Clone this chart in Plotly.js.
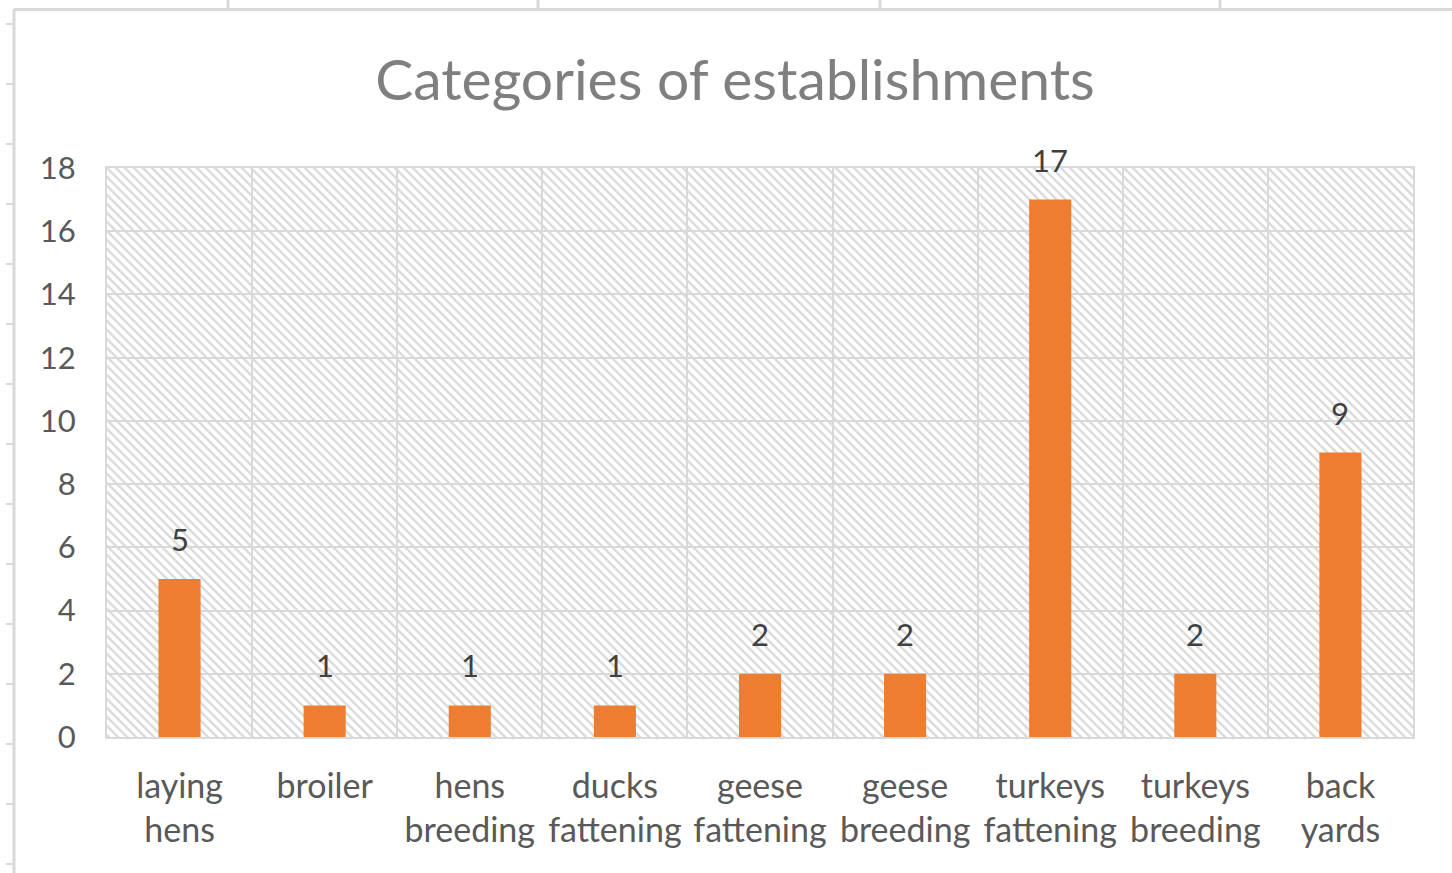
<!DOCTYPE html>
<html>
<head>
<meta charset="utf-8">
<script src="https://cdn.plot.ly/plotly-3.0.1.min.js"></script>
<style>
  html, body { margin: 0; padding: 0; background: #ffffff; }
  #chart { width: 1452px; height: 873px; }
</style>
</head>
<body>
<div id="chart"></div>
<script>
const categories = [
  "laying<br>hens", "broiler", "hens<br>breeding", "ducks<br>fattening",
  "geese<br>fattening", "geese<br>breeding", "turkeys<br>fattening",
  "turkeys<br>breeding", "back<br>yards"
];
const values = [5, 1, 1, 1, 2, 2, 17, 2, 9];
const yTickVals = [0, 2, 4, 6, 8, 10, 12, 14, 16, 18];
const chartTitle = "Categories of establishments";

const W = 1452, H = 873;
const M = { l: 107, r: 39, t: 168, b: 136 };
const PW = W - M.l - M.r, PH = H - M.t - M.b;
const px = x => (x - M.l) / PW;
const py = y => (H - M.b - y) / PH;

// Hatched plot-area background (Excel "wide downward diagonal")
const svg =
  `<svg xmlns="http://www.w3.org/2000/svg" width="${PW}" height="${PH}">` +
  `<defs><pattern id="p" width="9" height="9" patternUnits="userSpaceOnUse">` +
  `<path d="M-2,-2 L11,11 M-2,7 L2,11 M7,-2 L11,2" stroke="#dcdcdc" stroke-width="2.6"/>` +
  `</pattern></defs><rect width="100%" height="100%" fill="url(#p)"/></svg>`;
const hatchURI = "data:image/svg+xml;base64," + btoa(svg);

const sheet = "#d9d9d9";
const shapes = [
  { type: "line", xref: "paper", yref: "paper", x0: px(14), x1: px(14), y0: py(9), y1: py(880), line: { color: sheet, width: 3 } },
  { type: "line", xref: "paper", yref: "paper", x0: px(14), x1: px(1460), y0: py(9.5), y1: py(9.5), line: { color: sheet, width: 3 } }
];
[24, 84, 144, 204, 264, 324, 384, 444, 504, 564, 624, 684, 744, 804, 864].forEach(y => {
  shapes.push({ type: "line", xref: "paper", yref: "paper", x0: px(6), x1: px(14), y0: py(y), y1: py(y), line: { color: sheet, width: 2 } });
});
[228, 538, 880, 1220].forEach(x => {
  shapes.push({ type: "line", xref: "paper", yref: "paper", x0: px(x), x1: px(x), y0: py(0), y1: py(9), line: { color: sheet, width: 3 } });
});

const trace = {
  type: "bar",
  x: categories,
  y: values,
  marker: { color: "#ED7D31" },
  cliponaxis: false,
  hoverinfo: "x+y"
};

// value labels above the bars
const annotations = categories.map((c, i) => ({
  x: c, y: values[i], xref: "x", yref: "y",
  text: String(values[i]), showarrow: false,
  yanchor: "middle", yshift: 40,
  font: { family: "Lato, sans-serif", size: 31, color: "#404040" }
}));

const layout = {
  width: W, height: H,
  margin: M,
  paper_bgcolor: "#ffffff",
  plot_bgcolor: "rgba(0,0,0,0)",
  showlegend: false,
  bargap: 0.71,
  title: {
    text: chartTitle,
    font: { family: "Lato, sans-serif", size: 57, color: "#7f7f7f" },
    xref: "container", x: 735 / W, xanchor: "center",
    yref: "container", y: 1 - 80 / H, yanchor: "middle"
  },
  xaxis: {
    type: "category",
    tickson: "boundaries",
    showgrid: true, gridcolor: sheet, gridwidth: 2,
    showline: true, linecolor: sheet, linewidth: 2, mirror: true,
    ticks: "", ticklen: 0,
    tickfont: { family: "Lato, sans-serif", size: 34, color: "#595959" },
    ticklabelstandoff: 18,
    fixedrange: true
  },
  yaxis: {
    range: [0, 18],
    tickvals: yTickVals,
    showgrid: true, gridcolor: sheet, gridwidth: 2,
    showline: true, linecolor: sheet, linewidth: 2, mirror: true,
    zeroline: false,
    ticks: "",
    tickfont: { family: "Lato, sans-serif", size: 31, color: "#595959" },
    ticklabelstandoff: 23,
    fixedrange: true
  },
  images: [{
    source: hatchURI, xref: "paper", yref: "paper",
    x: 0, y: 1, sizex: 1, sizey: 1, xanchor: "left", yanchor: "top",
    sizing: "stretch", layer: "below"
  }],
  shapes: shapes,
  annotations: annotations
};

Plotly.newPlot("chart", [trace], layout, { displayModeBar: false });
</script>
</body>
</html>
